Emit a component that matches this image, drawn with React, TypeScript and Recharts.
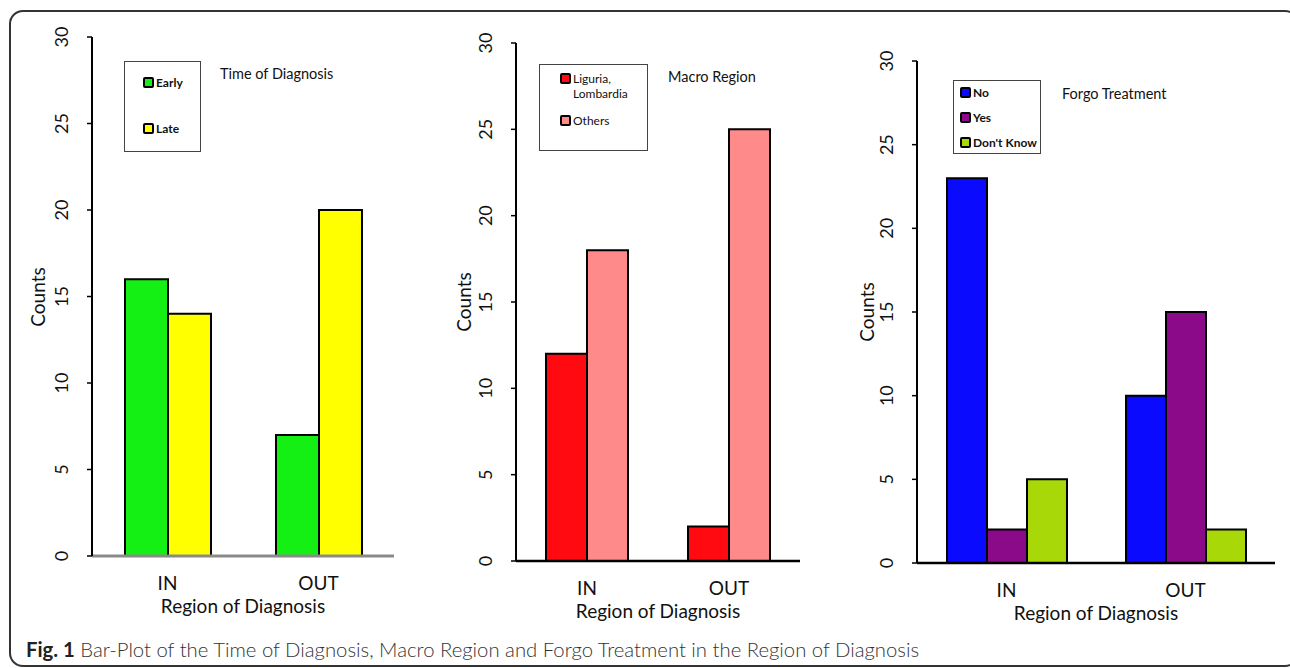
import { BarChart, Bar, XAxis, YAxis, Legend } from 'recharts';

const categories = ['IN', 'OUT'];
const earlyCounts = [16, 7];
const lateCounts = [14, 20];
const liguriaCounts = [12, 2];
const othersCounts = [18, 25];
const noCounts = [23, 10];
const yesCounts = [2, 15];
const dontKnowCounts = [5, 2];
const yTicks = [0, 5, 10, 15, 20, 25, 30];

const FONT = 'Lato, "Open Sans", sans-serif';

const timeData = categories.map((c, i) => ({ region: c, early: earlyCounts[i], late: lateCounts[i] }));
const macroData = categories.map((c, i) => ({ region: c, ligLom: liguriaCounts[i], others: othersCounts[i] }));
const forgoData = categories.map((c, i) => ({
  region: c,
  no: noCounts[i],
  yes: yesCounts[i],
  dontKnow: dontKnowCounts[i],
}));

const RotTick = ({ x, y, payload }: any) => (
  <text
    x={x}
    y={y}
    transform={`rotate(-90 ${x} ${y})`}
    textAnchor="middle"
    fontSize={18}
    fontFamily={FONT}
    fill="#111"
  >
    {payload.value}
  </text>
);

const CatTick = ({ x, y, payload }: any) => (
  <text x={x} y={y} dy="0.71em" textAnchor="middle" fontSize={19} fontFamily={FONT} fill="#111">
    {payload.value}
  </text>
);

interface LegendBoxProps {
  payload?: any[];
  order: string[];
  bold?: boolean;
  padTop: number;
  padLeft: number;
  gap: number;
  textWidth?: number;
}

const LegendBox = ({ payload = [], order, bold, padTop, padLeft, gap, textWidth }: LegendBoxProps) => {
  const items = [...payload].sort((a, b) => order.indexOf(a.value) - order.indexOf(b.value));
  return (
    <div
      style={{
        boxSizing: 'border-box',
        width: '100%',
        height: '100%',
        border: '1.5px solid #444',
        background: '#fff',
        paddingTop: padTop,
        paddingLeft: padLeft,
        display: 'flex',
        flexDirection: 'column',
        gap,
        fontFamily: FONT,
        fontSize: 12,
        fontWeight: bold ? 700 : 400,
        color: '#111',
      }}
    >
      {items.map((p) => (
        <div key={p.value} style={{ display: 'flex', alignItems: 'flex-start', lineHeight: '15px' }}>
          <div
            style={{
              width: 7,
              height: 7,
              border: '2px solid #000',
              borderRadius: 2,
              background: p.color,
              marginTop: 2,
              marginRight: 2,
              flexShrink: 0,
            }}
          />
          <span style={{ maxWidth: textWidth }}>{p.value}</span>
        </div>
      ))}
    </div>
  );
};

const axisProps = {
  domain: [0, 30] as [number, number],
  ticks: yTicks,
  interval: 0 as const,
  tickSize: 5,
  tickMargin: 19,
  tick: <RotTick />,
  axisLine: { stroke: '#000', strokeWidth: 2 },
  tickLine: { stroke: '#000', strokeWidth: 1.5 },
  width: 60,
};

const xLabel = (offset: number) => ({
  value: 'Region of Diagnosis',
  position: 'bottom' as const,
  offset,
  fontSize: 19,
  fontFamily: FONT,
  fill: '#111',
});

const Title = ({ left, top, text }: { left: number; top: number; text: string }) => (
  <div style={{ position: 'absolute', left, top, fontFamily: FONT, fontSize: 14.5, color: '#111' }}>{text}</div>
);

const Counts = ({ left, top }: { left: number; top: number }) => (
  <div
    style={{
      position: 'absolute',
      left,
      top,
      transform: 'translate(-50%, -50%) rotate(-90deg)',
      fontFamily: FONT,
      fontSize: 19,
      color: '#111',
      whiteSpace: 'nowrap',
    }}
  >
    Counts
  </div>
);

export default function App() {
  return (
    <div
      style={{
        position: 'absolute',
        left: 0,
        top: 0,
        width: 1290,
        height: 668,
        background: '#fff',
        overflow: 'hidden',
      }}
    >
      <div
        style={{
          position: 'absolute',
          left: 9,
          top: 10,
          width: 1290,
          height: 657,
          boxSizing: 'border-box',
          border: '2px solid #333',
          borderRadius: 14,
        }}
      />

      {/* panel 1 */}
      <div style={{ position: 'absolute', left: 0, top: 0 }}>
        <BarChart
          width={420}
          height={668}
          data={timeData}
          margin={{ top: 37, right: 26, bottom: 82, left: 32 }}
          barGap={0}
          barSize={43}
        >
          <XAxis
            dataKey="region"
            tickLine={false}
            tickSize={6}
            tickMargin={15}
            tick={<CatTick />}
            axisLine={{ stroke: '#8a8a8a', strokeWidth: 3 }}
            label={xLabel(14)}
          />
          <YAxis {...axisProps} />
          <Legend
            layout="horizontal"
            verticalAlign="middle"
            align="center"
            content={<LegendBox order={['Early', 'Late']} bold padTop={13} padLeft={18} gap={31} />}
            wrapperStyle={{ position: 'absolute', left: 124, top: 61, width: 77, height: 91 }}
          />
          <Bar dataKey="early" name="Early" fill="#14f014" stroke="#000" strokeWidth={2} isAnimationActive={false} />
          <Bar dataKey="late" name="Late" fill="#ffff00" stroke="#000" strokeWidth={2} isAnimationActive={false} />
        </BarChart>
      </div>
      <Title left={220} top={65} text="Time of Diagnosis" />
      <Counts left={37} top={297} />

      {/* panel 2 */}
      <div style={{ position: 'absolute', left: 420, top: 0 }}>
        <BarChart
          width={400}
          height={668}
          data={macroData}
          margin={{ top: 43, right: 20, bottom: 77, left: 36 }}
          barGap={0}
          barSize={41}
        >
          <XAxis
            dataKey="region"
            tickLine={false}
            tickSize={6}
            tickMargin={15}
            tick={<CatTick />}
            axisLine={{ stroke: '#000', strokeWidth: 2.5 }}
            label={xLabel(14)}
          />
          <YAxis {...axisProps} />
          <Legend
            layout="horizontal"
            verticalAlign="middle"
            align="center"
            content={<LegendBox order={['Liguria, Lombardia', 'Others']} padTop={6} padLeft={20} gap={12} textWidth={72} />}
            wrapperStyle={{ position: 'absolute', left: 119, top: 64, width: 109, height: 87 }}
          />
          <Bar dataKey="ligLom" name="Liguria, Lombardia" fill="#ff0a10" stroke="#000" strokeWidth={2} isAnimationActive={false} />
          <Bar dataKey="others" name="Others" fill="#ff8a8a" stroke="#000" strokeWidth={2} isAnimationActive={false} />
        </BarChart>
      </div>
      <Title left={668} top={68} text="Macro Region" />
      <Counts left={463} top={302} />

      {/* panel 3 */}
      <div style={{ position: 'absolute', left: 820, top: 0 }}>
        <BarChart
          width={470}
          height={668}
          data={forgoData}
          margin={{ top: 61, right: 15, bottom: 75, left: 37 }}
          barGap={0}
          barSize={40}
        >
          <XAxis
            dataKey="region"
            tickLine={false}
            tickSize={6}
            tickMargin={15}
            tick={<CatTick />}
            axisLine={{ stroke: '#000', strokeWidth: 2.5 }}
            label={xLabel(14)}
          />
          <YAxis {...axisProps} />
          <Legend
            layout="horizontal"
            verticalAlign="middle"
            align="center"
            content={<LegendBox order={['No', 'Yes', "Don't Know"]} bold padTop={4} padLeft={6} gap={10} />}
            wrapperStyle={{ position: 'absolute', left: 133, top: 80, width: 88, height: 74 }}
          />
          <Bar dataKey="no" name="No" fill="#0a0aff" stroke="#000" strokeWidth={2} isAnimationActive={false} />
          <Bar dataKey="yes" name="Yes" fill="#8a0a8a" stroke="#000" strokeWidth={2} isAnimationActive={false} />
          <Bar dataKey="dontKnow" name="Don't Know" fill="#a8d808" stroke="#000" strokeWidth={2} isAnimationActive={false} />
        </BarChart>
      </div>
      <Title left={1062} top={85} text="Forgo Treatment" />
      <Counts left={866} top={312} />

      <div
        style={{
          position: 'absolute',
          left: 26,
          top: 637,
          fontFamily: FONT,
          fontSize: 20.3,
          fontWeight: 300,
          color: '#333',
          whiteSpace: 'nowrap',
        }}
      >
        <b style={{ color: '#222', fontWeight: 700 }}>Fig. 1</b> Bar-Plot of the Time of Diagnosis, Macro Region and Forgo Treatment in the Region of Diagnosis
      </div>
    </div>
  );
}
